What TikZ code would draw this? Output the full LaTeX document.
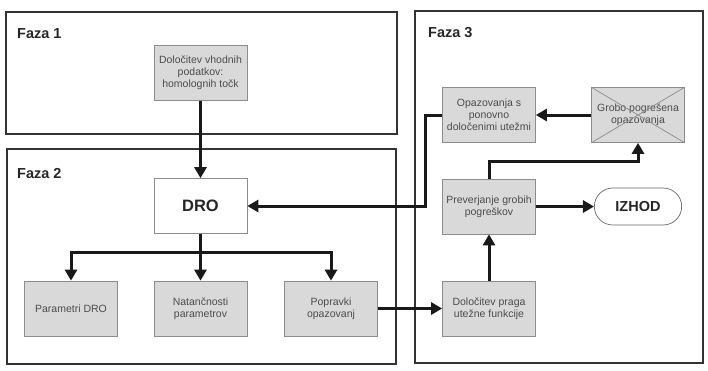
\documentclass[tikz,border=0pt]{standalone}
\usepackage{fontspec}
\setmainfont{Liberation Sans}
\usetikzlibrary{arrows.meta,shapes.misc}
\begin{document}
\begin{tikzpicture}[x=1pt,y=-1pt,
 phase/.style={draw=black!80,line width=1.6pt},
 phaselabel/.style={font=\fontsize{14.5}{16}\selectfont\bfseries,text=black!85,anchor=west,inner sep=0pt},
 proc/.style={draw=black!45,line width=0.7pt,fill=black!15,minimum width=93pt,minimum height=55pt,align=center,font=\fontsize{10.5}{12}\selectfont,text=black!70,inner sep=1pt},
 flow/.style={line width=3pt,-{Triangle[length=11pt,width=12pt]},black!90},
 flowline/.style={line width=3pt,black!90}
]
\useasboundingbox (0,0) rectangle (708,370);
% phases
\draw[phase] (6,12) rectangle (397,134);
\draw[phase] (7,149) rectangle (396,364);
\draw[phase] (415,11) rectangle (703,363);
\node[phaselabel] (f1) at (17,34) {Faza 1};
\node[phaselabel] (f2) at (17,174) {Faza 2};
\node[phaselabel] (f3) at (428,33) {Faza 3};
% nodes
\node[proc] (vhod) at (200.5,73) {Določitev vhodnih\\podatkov:\\homolognih točk};
\node[proc,fill=white,font=\fontsize{16.5}{18}\selectfont\bfseries,text=black!85] (dro) at (200.5,206) {DRO};
\node[proc] (par) at (71,308.5) {Parametri DRO};
\node[proc] (nat) at (200.5,308.5) {Natančnosti\\parametrov};
\node[proc] (pop) at (331,308.5) {Popravki\\opazovanj};
\node[proc] (prag) at (489,308.5) {Določitev praga\\utežne funkcije};
\node[proc] (prev) at (489,206.5) {Preverjanje grobih\\pogreškov};
\node[proc] (opaz) at (489,115) {Opazovanja s\\ponovno\\določenimi utežmi};
\node[proc] (grob) at (638,115) {Grobo pogrešena\\opazovanja};
\draw[black!45,line width=0.7pt] (grob.north west)--(grob.south east) (grob.north east)--(grob.south west);
\node[draw=black!60,line width=0.7pt,rounded rectangle,minimum width=94pt,minimum height=37pt,font=\fontsize{14.5}{16}\selectfont\bfseries,text=black!85] (izhod) at (638,206.5) {IZHOD};
% connectors
\coordinate (br) at (200.5,252);
\coordinate (up) at (489,161);
\coordinate (ret) at (425,115);
\draw[flow] (vhod.south) -- (dro.north);
\draw[flowline] (dro.south) -- (br);
\draw[flow] (br) -| (par.north);
\draw[flow] (br) -| (pop.north);
\draw[flow] (br) -- (nat.north);
\draw[flow] (pop.east) -- (prag.west);
\draw[flow] (prag.north) -- (prev.south);
\draw[flow] (prev.east) -- (izhod.west);
\draw[flow] (prev.north) -- (up) -| (grob.south);
\draw[flow] (grob.west) -- (opaz.east);
\draw[flow] (opaz.west) -- (ret) |- (dro.east);
\end{tikzpicture}
\end{document}
